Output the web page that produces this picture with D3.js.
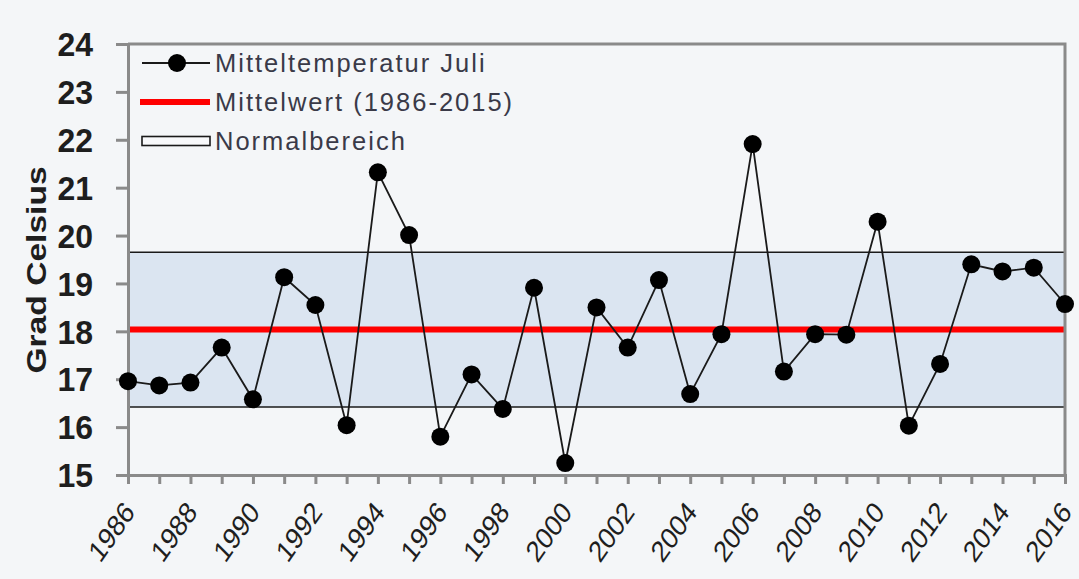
<!DOCTYPE html>
<html>
<head>
<meta charset="utf-8">
<script src="https://cdn.jsdelivr.net/npm/d3@7"></script>
<style>
  html, body { margin: 0; padding: 0; background: #f4f6f8; }
  svg { display: block; font-family: "Liberation Sans", Arial, sans-serif; }
</style>
</head>
<body>
<svg id="chart"></svg>
<script>
// data
const years = [1986, 1987, 1988, 1989, 1990, 1991, 1992, 1993, 1994, 1995,
               1996, 1997, 1998, 1999, 2000, 2001, 2002, 2003, 2004, 2005,
               2006, 2007, 2008, 2009, 2010, 2011, 2012, 2013, 2014, 2015, 2016];
const julyTemps = [16.96, 16.87, 16.93, 17.66, 16.58, 19.13, 18.55, 16.04, 21.32, 20.01,
                   15.80, 17.10, 16.38, 18.91, 15.25, 18.50, 17.66, 19.07, 16.69, 17.94,
                   21.91, 17.16, 17.94, 17.93, 20.29, 16.03, 17.32, 19.40, 19.25, 19.33, 18.57];
const meanValue = 18.04;
const normalRange = [16.42, 19.65];
const yTicks = [15, 16, 17, 18, 19, 20, 21, 22, 23, 24];
const xTickLabels = [1986, 1988, 1990, 1992, 1994, 1996, 1998, 2000, 2002, 2004,
                     2006, 2008, 2010, 2012, 2014, 2016];
const legendLabels = ["Mitteltemperatur Juli", "Mittelwert (1986-2015)", "Normalbereich"];

const width = 1079, height = 579;
const plotLeft = 128, plotRight = 1065, plotTop = 44, plotBottom = 475;

const svg = d3.select('#chart')
    .attr('width', width)
    .attr('height', height);

svg.append('rect')
    .attr('width', width).attr('height', height)
    .attr('fill', '#f4f6f8');

const x = d3.scaleLinear()
    .domain([years[0], years[years.length - 1]])
    .range([plotLeft, plotRight]);

const y = d3.scaleLinear()
    .domain([15, 24])
    .range([plotBottom, plotTop]);

// normal range band
svg.append('rect')
    .attr('x', plotLeft)
    .attr('y', y(normalRange[1]))
    .attr('width', plotRight - plotLeft)
    .attr('height', y(normalRange[0]) - y(normalRange[1]))
    .attr('fill', '#dbe5f1');

svg.selectAll('.band-line')
    .data(normalRange)
    .enter()
    .append('line')
    .attr('x1', plotLeft).attr('x2', plotRight)
    .attr('y1', d => y(d)).attr('y2', d => y(d))
    .attr('stroke', '#1a1a1a')
    .attr('stroke-width', 1.6);

// mean line
svg.append('line')
    .attr('x1', plotLeft).attr('x2', plotRight)
    .attr('y1', y(meanValue)).attr('y2', y(meanValue))
    .attr('stroke', '#ff0000')
    .attr('stroke-width', 6);

// frame top + right
svg.append('path')
    .attr('d', `M${plotLeft},${plotTop}H${plotRight}V${plotBottom}`)
    .attr('fill', 'none')
    .attr('stroke', '#8a8a8a')
    .attr('stroke-width', 3);

// y axis
const yAxis = svg.append('g')
    .attr('transform', `translate(${plotLeft},0)`)
    .call(d3.axisLeft(y).tickValues(yTicks).tickSize(12).tickPadding(0).tickFormat(''));
yAxis.select('.domain').attr('stroke', '#8a8a8a').attr('stroke-width', 3);
yAxis.selectAll('.tick line').attr('stroke', '#8a8a8a').attr('stroke-width', 3);

svg.selectAll('.ylab')
    .data(yTicks)
    .enter()
    .append('text')
    .attr('class', 'ylab')
    .attr('transform', d => `translate(93,${y(d)}) scale(1,1.06)`)
    .attr('text-anchor', 'end')
    .attr('dy', '0.36em')
    .attr('font-size', 32)
    .attr('font-weight', 'bold')
    .attr('fill', '#1e1e1e')
    .text(d => d);

// x axis
const xAxis = svg.append('g')
    .attr('transform', `translate(0,${plotBottom})`)
    .call(d3.axisBottom(x).tickValues(years).tickSize(9).tickFormat(''));
xAxis.select('.domain').attr('stroke', '#8a8a8a').attr('stroke-width', 3);
xAxis.selectAll('.tick line').attr('stroke', '#8a8a8a').attr('stroke-width', 3);

svg.selectAll('.xlab')
    .data(xTickLabels)
    .enter()
    .append('text')
    .attr('class', 'xlab')
    .attr('transform', d => `translate(${x(d) + 8},${plotBottom + 38}) scale(1,1.2) rotate(-50)`)
    .attr('text-anchor', 'end')
    .attr('font-size', 25)
    .attr('fill', '#1e1e1e')
    .text(d => d);

// axis title
svg.append('text')
    .attr('transform', `translate(46,270) scale(1,1.2) rotate(-90)`)
    .attr('text-anchor', 'middle')
    .attr('font-size', 28)
    .attr('font-weight', 'bold')
    .attr('fill', '#1e1e1e')
    .text('Grad Celsius');

// temperature line + dots
const line = d3.line()
    .x((d, i) => x(years[i]))
    .y(d => y(d));

svg.append('path')
    .datum(julyTemps)
    .attr('d', line)
    .attr('fill', 'none')
    .attr('stroke', '#1a1a1a')
    .attr('stroke-width', 1.8);

svg.selectAll('.dot')
    .data(julyTemps)
    .enter()
    .append('circle')
    .attr('class', 'dot')
    .attr('cx', (d, i) => x(years[i]))
    .attr('cy', d => y(d))
    .attr('r', 9)
    .attr('fill', '#000');

// legend
const legend = svg.append('g');
const legY = [63, 102, 141];

legend.append('line')
    .attr('x1', 142).attr('x2', 210).attr('y1', legY[0]).attr('y2', legY[0])
    .attr('stroke', '#1a1a1a').attr('stroke-width', 1.8);
legend.append('circle')
    .attr('cx', 177).attr('cy', legY[0]).attr('r', 9).attr('fill', '#000');

legend.append('line')
    .attr('x1', 140).attr('x2', 210).attr('y1', legY[1]).attr('y2', legY[1])
    .attr('stroke', '#ff0000').attr('stroke-width', 6);

legend.append('rect')
    .attr('x', 142).attr('y', legY[2] - 4.5)
    .attr('width', 68).attr('height', 9)
    .attr('fill', '#f8f9fb')
    .attr('stroke', '#1a1a1a').attr('stroke-width', 1.6);

legend.selectAll('.legtext')
    .data(legendLabels)
    .enter()
    .append('text')
    .attr('class', 'legtext')
    .attr('transform', (d, i) => `translate(215,${legY[i]})`)
    .attr('dy', '0.36em')
    .attr('font-size', 25.5)
    .attr('letter-spacing', 2)
    .attr('fill', '#3a3a48')
    .text(d => d);
</script>
</body>
</html>
